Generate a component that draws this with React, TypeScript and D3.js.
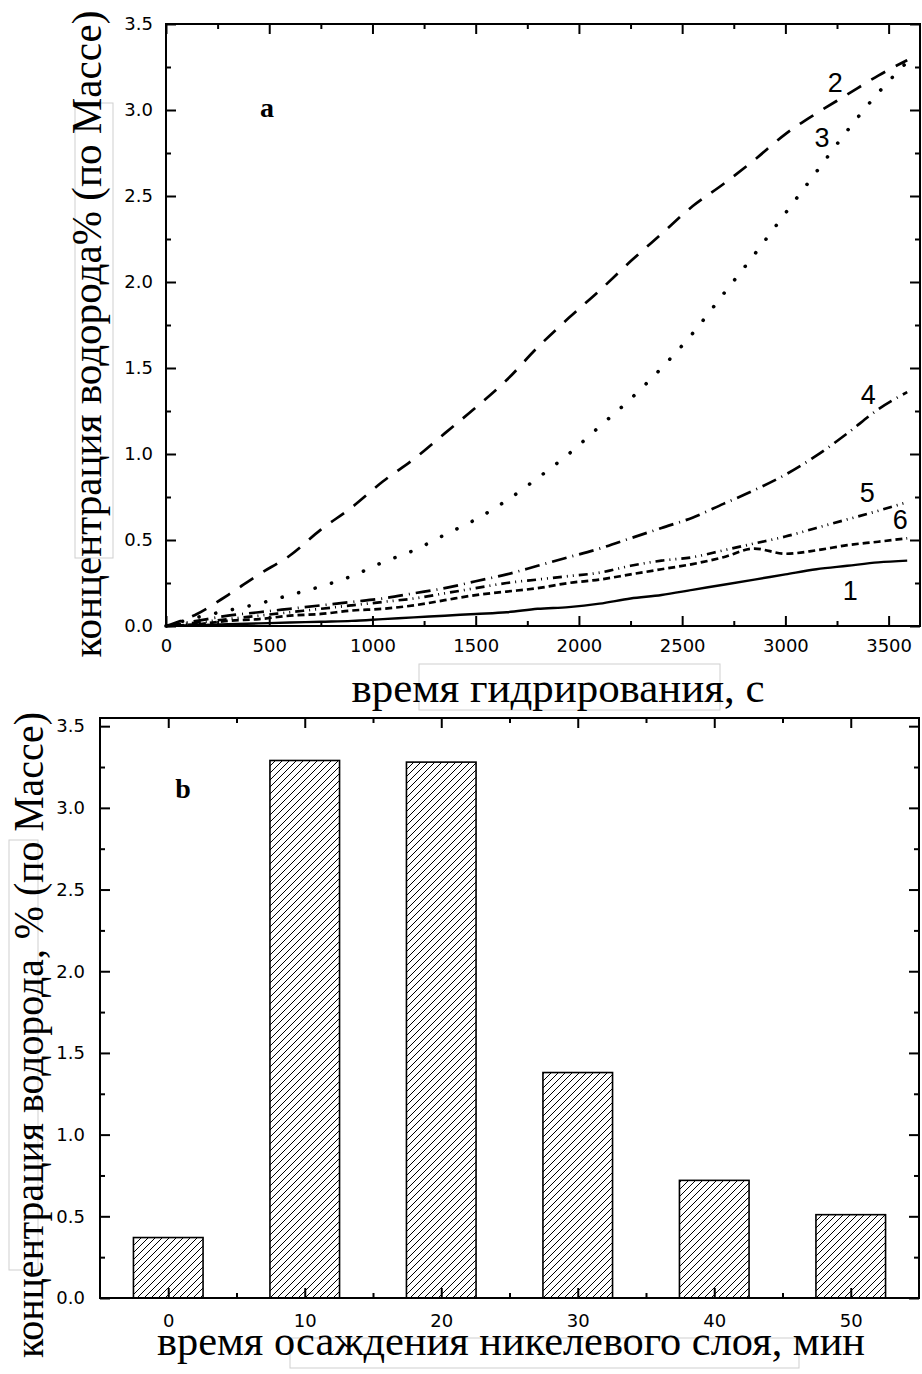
import React, { useEffect, useRef } from 'react';
import * as d3 from 'd3';

// panel a: hydrogen concentration vs hydriding time, 6 samples
const hydrTimes = [0, 150, 300, 450, 600, 750, 900, 1050, 1200, 1350, 1500, 1650, 1800,
  1950, 2100, 2250, 2400, 2550, 2700, 2850, 3000, 3150, 3300, 3450, 3590];
const curve1 = [0, 0.005, 0.01, 0.015, 0.02, 0.025, 0.03, 0.04, 0.05, 0.06, 0.07, 0.08, 0.1,
  0.11, 0.13, 0.16, 0.18, 0.21, 0.24, 0.27, 0.3, 0.33, 0.35, 0.37, 0.38];
const curve2 = [0, 0.07, 0.18, 0.3, 0.41, 0.56, 0.69, 0.84, 0.97, 1.12, 1.27, 1.43, 1.62,
  1.79, 1.95, 2.12, 2.28, 2.44, 2.57, 2.71, 2.86, 2.98, 3.09, 3.2, 3.29];
const curve3 = [0, 0.05, 0.09, 0.13, 0.18, 0.23, 0.29, 0.37, 0.44, 0.53, 0.62, 0.73, 0.86,
  1.0, 1.16, 1.32, 1.5, 1.7, 1.93, 2.16, 2.4, 2.64, 2.88, 3.1, 3.28];
const curve4 = [0, 0.03, 0.06, 0.08, 0.1, 0.12, 0.14, 0.16, 0.19, 0.22, 0.26, 0.3, 0.35,
  0.4, 0.45, 0.51, 0.57, 0.63, 0.71, 0.79, 0.88, 0.99, 1.12, 1.26, 1.36];
const curve5 = [0, 0.02, 0.04, 0.06, 0.08, 0.1, 0.12, 0.14, 0.16, 0.19, 0.22, 0.25, 0.27,
  0.29, 0.31, 0.35, 0.38, 0.4, 0.44, 0.48, 0.52, 0.57, 0.62, 0.67, 0.72];
const curve6 = [0, 0.01, 0.03, 0.04, 0.06, 0.07, 0.09, 0.1, 0.12, 0.15, 0.18, 0.2, 0.22,
  0.25, 0.27, 0.3, 0.33, 0.36, 0.4, 0.45, 0.42, 0.44, 0.47, 0.49, 0.51];
const curveNames = ['1', '2', '3', '4', '5', '6'];
// where the curve numbers sit, in data units [s, %]
const labelSpots = [[3314, 0.21], [3241, 3.16], [3178, 2.84], [3401, 1.35], [3396, 0.78], [3556, 0.62]];

// panel b: final concentration vs nickel deposition time
const nickelTimes = [0, 10, 20, 30, 40, 50];
const finalConc = [0.37, 3.29, 3.28, 1.38, 0.72, 0.51];

const yMajor = [0, 0.5, 1, 1.5, 2, 2.5, 3, 3.5];
const yMinor = [0.25, 0.75, 1.25, 1.75, 2.25, 2.75, 3.25];
const aXMajor = [0, 500, 1000, 1500, 2000, 2500, 3000, 3500];
const aXMinor = [250, 750, 1250, 1750, 2250, 2750, 3250];
const bXMajor = [0, 10, 20, 30, 40, 50];
const bXMinor = [5, 15, 25, 35, 45];

const dashes = [null, '16,12', '0.1,17', '15,6,1,6', '9,5,1,5,1,5', '7,4'];

const tickFont = 'DejaVu Sans, sans-serif';
const serif = 'Liberation Serif, Times New Roman, serif';

const App: React.FC = () => {
  const ref = useRef<SVGSVGElement>(null);

  useEffect(() => {
    const svg = d3.select(ref.current);
    svg.selectAll('*').remove();

    // hatch for bars
    const pat = svg.append('defs').append('pattern')
      .attr('id', 'hatch')
      .attr('patternUnits', 'userSpaceOnUse')
      .attr('width', 7).attr('height', 7);
    pat.append('path')
      .attr('d', 'M-2,2 L2,-2 M0,7 L7,0 M5,9 L9,5')
      .attr('stroke', '#000').attr('stroke-width', 1);

    const styleAxis = (sel) => {
      sel.select('.domain').remove();
      sel.selectAll('line').attr('stroke', '#000').attr('stroke-width', 2);
      sel.attr('font-family', tickFont).attr('font-size', 18);
      sel.selectAll('text').attr('fill', '#000');
    };
    const none = () => '';

    const frame = (x, y, xMaj, xMin, xFmt, xPad, yPad) => {
      const [x0, x1] = x.range();
      const [yb, yt] = y.range();
      const g = svg.append('g');
      g.append('g').attr('transform', `translate(0,${yb})`)
        .call(d3.axisBottom(x).tickValues(xMaj).tickSizeInner(-10).tickSizeOuter(0).tickPadding(xPad).tickFormat(xFmt))
        .call(styleAxis);
      g.append('g').attr('transform', `translate(0,${yb})`)
        .call(d3.axisBottom(x).tickValues(xMin).tickSizeInner(-5).tickSizeOuter(0).tickFormat(none))
        .call(styleAxis);
      g.append('g').attr('transform', `translate(0,${yt})`)
        .call(d3.axisTop(x).tickValues(xMaj).tickSizeInner(-10).tickSizeOuter(0).tickFormat(none))
        .call(styleAxis);
      g.append('g').attr('transform', `translate(0,${yt})`)
        .call(d3.axisTop(x).tickValues(xMin).tickSizeInner(-5).tickSizeOuter(0).tickFormat(none))
        .call(styleAxis);
      g.append('g').attr('transform', `translate(${x0},0)`)
        .call(d3.axisLeft(y).tickValues(yMajor).tickSizeInner(-10).tickSizeOuter(0).tickPadding(yPad).tickFormat(d3.format('.1f')))
        .call(styleAxis);
      g.append('g').attr('transform', `translate(${x0},0)`)
        .call(d3.axisLeft(y).tickValues(yMinor).tickSizeInner(-5).tickSizeOuter(0).tickFormat(none))
        .call(styleAxis);
      g.append('g').attr('transform', `translate(${x1},0)`)
        .call(d3.axisRight(y).tickValues(yMajor).tickSizeInner(-10).tickSizeOuter(0).tickFormat(none))
        .call(styleAxis);
      g.append('g').attr('transform', `translate(${x1},0)`)
        .call(d3.axisRight(y).tickValues(yMinor).tickSizeInner(-5).tickSizeOuter(0).tickFormat(none))
        .call(styleAxis);
      g.append('rect')
        .attr('x', x0).attr('y', yt).attr('width', x1 - x0).attr('height', yb - yt)
        .attr('fill', 'none').attr('stroke', '#000').attr('stroke-width', 2);
    };

    const bigText = (x, y, txt, len, rotate) => {
      svg.append('text')
        .attr('transform', `translate(${x},${y})${rotate ? ' rotate(-90)' : ''}`)
        .attr('text-anchor', 'middle')
        .attr('font-family', serif).attr('font-size', 42)
        .attr('textLength', len).attr('lengthAdjust', 'spacingAndGlyphs')
        .text(txt);
    };

    // faint scan boxes
    const boxes = [[75, 103, 38, 455], [419, 664, 301, 46], [9, 840, 29, 430], [290, 1338, 509, 30]];
    svg.append('g').selectAll('rect').data(boxes).enter().append('rect')
      .attr('x', (d) => d[0]).attr('y', (d) => d[1]).attr('width', (d) => d[2]).attr('height', (d) => d[3])
      .attr('fill', 'none').attr('stroke', '#cfcfcf').attr('stroke-width', 1);

    // ---------- panel a ----------
    const xa = d3.scaleLinear().domain([0, 3652]).range([166, 920]);
    const ya = d3.scaleLinear().domain([0, 3.5]).range([626, 24]);

    const series = [curve1, curve2, curve3, curve4, curve5, curve6];
    const line = d3.line<number>()
      .x((d, i) => xa(hydrTimes[i]))
      .y((d) => ya(d))
      .curve(d3.curveMonotoneX);

    svg.append('g').selectAll('path').data(series).enter().append('path')
      .attr('d', (d) => line(d))
      .attr('fill', 'none')
      .attr('stroke', '#000')
      .attr('stroke-width', (d, i) => (i === 0 ? 2.4 : i === 2 ? 3.6 : 2.7))
      .attr('stroke-linecap', (d, i) => (i === 2 ? 'round' : 'butt'))
      .attr('stroke-dasharray', (d, i) => dashes[i]);

    frame(xa, ya, aXMajor, aXMinor, d3.format('d'), 13, 13);

    svg.append('g').selectAll('text').data(curveNames).enter().append('text')
      .attr('x', (d, i) => xa(labelSpots[i][0]))
      .attr('y', (d, i) => ya(labelSpots[i][1]))
      .attr('dy', '0.36em')
      .attr('text-anchor', 'middle')
      .attr('font-family', 'Liberation Sans, Arial, sans-serif')
      .attr('font-size', 27)
      .text((d) => d);

    svg.append('text').attr('x', 267).attr('y', 117).attr('text-anchor', 'middle')
      .attr('font-family', serif).attr('font-weight', 'bold').attr('font-size', 28).text('a');

    bigText(101, 334, 'концентрация водорода% (по Массе)', 647, true);
    bigText(558, 702, 'время гидрирования, с', 413, false);

    // ---------- panel b ----------
    const xb = d3.scaleLinear().domain([-5, 55]).range([100, 919]);
    const yb = d3.scaleLinear().domain([0, 3.55]).range([1298, 718]);
    const halfW = 2.55;

    svg.append('g').selectAll('rect').data(nickelTimes).enter().append('rect')
      .attr('x', (d) => xb(d - halfW))
      .attr('y', (d, i) => yb(finalConc[i]))
      .attr('width', (d) => xb(d + halfW) - xb(d - halfW))
      .attr('height', (d, i) => yb(0) - yb(finalConc[i]))
      .attr('fill', 'url(#hatch)')
      .attr('stroke', '#000')
      .attr('stroke-width', 1.6);

    frame(xb, yb, bXMajor, bXMinor, d3.format('d'), 16, 15);

    svg.append('text').attr('x', 183).attr('y', 798).attr('text-anchor', 'middle')
      .attr('font-family', serif).attr('font-weight', 'bold').attr('font-size', 28).text('b');

    bigText(43, 1035, 'концентрация водорода, % (по Массе)', 646, true);
    bigText(511, 1355, 'время осаждения никелевого слоя, мин', 708, false);
  }, []);

  return (
    <svg ref={ref} width={922} height={1374}
      style={{ position: 'absolute', left: 0, top: 0, background: '#fff' }} />
  );
};

export default App;
